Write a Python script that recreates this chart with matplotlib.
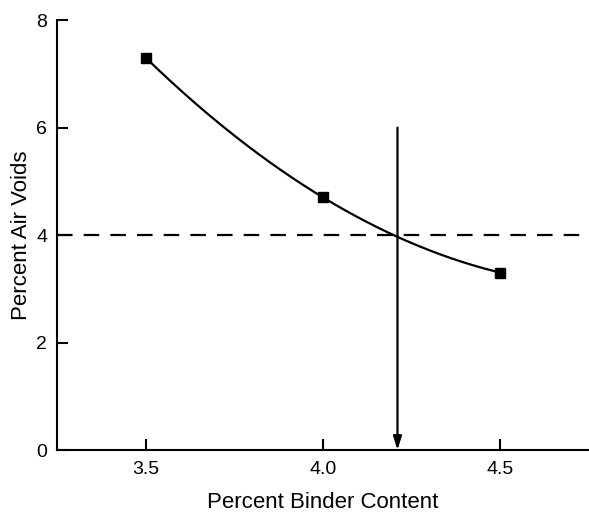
import numpy as np
import matplotlib
matplotlib.use("Agg")
import matplotlib.pyplot as plt

plt.rcParams['font.family'] = ['Liberation Sans', 'DejaVu Sans']

binder = [3.5, 4.0, 4.5]
air_voids = [7.3, 4.7, 3.3]
target_voids = 4.0
optimum_binder = 4.21
arrow_top = 6.0
x_ticks = [3.5, 4.0, 4.5]
x_tick_labels = ["3.5", "4.0", "4.5"]
y_ticks = [0, 2, 4, 6, 8]

fig = plt.figure(figsize=(5.89, 5.14), dpi=100)
ax = fig.add_axes([0.0968, 0.1245, 0.9032, 0.8365])

coef = np.polyfit(binder, air_voids, 2)
xs = np.linspace(min(binder), max(binder), 200)
ax.plot(xs, np.polyval(coef, xs), color='black', lw=1.6, zorder=3)
ax.plot(binder, air_voids, 's', color='black', ms=6.5, zorder=4)

ax.axhline(target_voids, color='black', lw=1.6, dashes=(7, 5), zorder=2)
ax.annotate('', xy=(optimum_binder, 0), xytext=(optimum_binder, arrow_top),
            arrowprops=dict(arrowstyle='-|>,head_length=0.8,head_width=0.25',
                            color='black', lw=1.6, shrinkA=0, shrinkB=0),
            zorder=3)

ax.set_xlim(3.25, 4.75)
ax.set_ylim(0, 8)
ax.set_xticks(x_ticks)
ax.set_xticklabels(x_tick_labels)
ax.set_yticks(y_ticks)
for s in ['top', 'right']:
    ax.spines[s].set_visible(False)
for s in ['left', 'bottom']:
    ax.spines[s].set_linewidth(1.5)
ax.tick_params(direction='in', length=8, width=1.5, labelsize=14, colors='black')
ax.tick_params(axis='x', pad=8)
ax.tick_params(axis='y', pad=7)
ax.set_xlabel('Percent Binder Content', fontsize=16, labelpad=10)
ax.set_ylabel('Percent Air Voids', fontsize=16, labelpad=3)

fig.savefig('out.png', dpi=100)
